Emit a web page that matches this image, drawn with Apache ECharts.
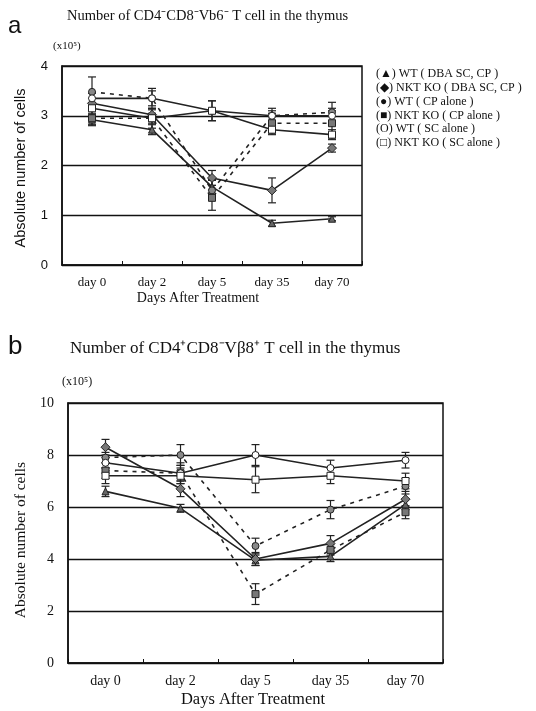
<!DOCTYPE html>
<html><head><meta charset="utf-8">
<script src="https://cdn.jsdelivr.net/npm/echarts@6/dist/echarts.min.js"></script>
<style>html,body{margin:0;padding:0;background:#fff}#c{width:536px;height:711px}</style>
</head><body><div id="c"></div>
<script>
const categories = ['day 0','day 2','day 5','day 35','day 70'];
const seriesNames = ['WT ( DBA SC, CP )','NKT KO ( DBA SC, CP )','WT ( CP alone )','NKT KO ( CP alone )','WT ( SC alone )','NKT KO ( SC alone )'];
const legendSymbols = ['▲','◆','●','■','O','□'];
// Panel a (x10^5)
const aWtDba      = [2.92, 2.72, 1.57, 0.84, 0.93];
const aNktDba     = [3.25, 3.02, 1.75, 1.50, 2.35];
const aWtCp       = [3.48, 3.35, 1.50, 3.00, 3.07];
const aNktCp      = [2.95, 2.95, 1.35, 2.85, 2.85];
const aWtSc       = [3.35, 3.35, 3.10, 3.00, 3.00];
const aNktSc      = [3.15, 2.95, 3.10, 2.72, 2.62];
const aErrWtDba   = [0.10, 0.10, 0.15, 0.06, 0.04];
const aErrNktDba  = [0.10, 0.10, 0.15, 0.25, 0.08];
const aErrWtCp    = [0.30, 0.20, 0.20, 0.15, 0.20];
const aErrNktCp   = [0.15, 0.20, 0.25, 0.20, 0.30];
const aErrWtSc    = [0.10, 0.15, 0.20, 0.10, 0.10];
const aErrNktSc   = [0.10, 0.10, 0.20, 0.10, 0.10];
// Panel b (x10^5)
const bWtDba      = [6.60, 5.95, 3.95, 4.10, 6.10];
const bNktDba     = [8.30, 6.70, 4.00, 4.60, 6.30];
const bWtCp       = [7.90, 8.00, 4.50, 5.90, 6.80];
const bNktCp      = [7.40, 7.30, 2.65, 4.35, 5.80];
const bWtSc       = [7.70, 7.30, 8.00, 7.50, 7.80];
const bNktSc      = [7.20, 7.20, 7.05, 7.20, 7.00];
const bErrWtDba   = [0.20, 0.15, 0.20, 0.20, 0.20];
const bErrNktDba  = [0.30, 0.30, 0.25, 0.30, 0.30];
const bErrWtCp    = [0.20, 0.40, 0.30, 0.35, 0.30];
const bErrNktCp   = [0.30, 0.40, 0.40, 0.20, 0.25];
const bErrWtSc    = [0.20, 0.30, 0.40, 0.30, 0.30];
const bErrNktSc   = [0.30, 0.30, 0.50, 0.30, 0.30];
const aTicks = [0,1,2,3,4];
const bTicks = [0,2,4,6,8,10];

const serif = 'Liberation Serif';
const sans = 'Liberation Sans';
const symbols = ['triangle','diamond','circle','rect','circle','rect'];
const fills = ['#666','#777','#888','#777','#fff','#fff'];
const dashed = [false,false,true,true,false,false];

function buildPanel(gi, vals, errs) {
  const out = [];
  vals.forEach((v, i) => {
    out.push({
      type:'line', xAxisIndex:gi, yAxisIndex:gi, data:v, symbol:symbols[i], symbolSize: i===1?9:7,
      lineStyle:{color:'#222', width:1.6, type: dashed[i] ? [4,5] : 'solid'},
      itemStyle:{color:fills[i], borderColor:'#222', borderWidth:1}, z:3, animation:false
    });
    out.push({
      type:'custom', xAxisIndex:gi, yAxisIndex:gi, z:2, animation:false,
      data: v.map((m, k) => [k, m - errs[i][k], m + errs[i][k]]),
      renderItem: function(params, api) {
        const lo = api.coord([api.value(0), api.value(1)]);
        const hi = api.coord([api.value(0), api.value(2)]);
        const w = 4;
        const st = {stroke:'#222', lineWidth:1.2};
        return {type:'group', children:[
          {type:'line', shape:{x1:lo[0],y1:lo[1],x2:hi[0],y2:hi[1]}, style:st},
          {type:'line', shape:{x1:lo[0]-w,y1:lo[1],x2:lo[0]+w,y2:lo[1]}, style:st},
          {type:'line', shape:{x1:hi[0]-w,y1:hi[1],x2:hi[0]+w,y2:hi[1]}, style:st}
        ]};
      }
    });
  });
  return out;
}

function xAx(gi, fs) {
  return {type:'category', gridIndex:gi, data:categories, boundaryGap:true,
    axisLine:{lineStyle:{color:'#111', width:1.5}},
    axisTick:{show:true, inside:true, length:4, lineStyle:{color:'#111'}},
    axisLabel:{color:'#111', fontFamily:serif, fontSize:fs, margin:11},
    splitLine:{show:false}};
}
function yAx(gi, ticks, interval, fs, font) {
  return {type:'value', gridIndex:gi, min:ticks[0], max:ticks[ticks.length-1], interval:interval,
    axisLine:{show:true, lineStyle:{color:'#111', width:1.5}},
    axisTick:{show:false},
    axisLabel:{color:'#111', fontFamily:font, fontSize:fs, margin:14},
    splitLine:{show:true, lineStyle:{color:'#111', width:1.3}}};
}

const chart = echarts.init(document.getElementById('c'), null, {renderer:'canvas'});
const legendTexts = seriesNames.map((n, i) => ({
  type:'text', left:376, top:68 + i*13.8,
  style:{text:'(' + legendSymbols[i] + ') ' + n, fontFamily:serif, fontSize:12, fill:'#111'}
}));
chart.setOption({
  backgroundColor:'#fff',
  animation:false,
  grid:[
    {left:62, top:66, width:300, height:199, show:true, borderColor:'#111', borderWidth:1.5},
    {left:68, top:403, width:375, height:260, show:true, borderColor:'#111', borderWidth:1.5}
  ],
  xAxis:[xAx(0, 13), xAx(1, 14)],
  yAxis:[yAx(0, aTicks, 1, 13, sans), yAx(1, bTicks, 2, 14, serif)],
  series: [].concat(
    buildPanel(0, [aWtDba,aNktDba,aWtCp,aNktCp,aWtSc,aNktSc], [aErrWtDba,aErrNktDba,aErrWtCp,aErrNktCp,aErrWtSc,aErrNktSc]),
    buildPanel(1, [bWtDba,bNktDba,bWtCp,bNktCp,bWtSc,bNktSc], [bErrWtDba,bErrNktDba,bErrWtCp,bErrNktCp,bErrWtSc,bErrNktSc])
  ),
  graphic: [
    {type:'text', left:8, top:14, style:{text:'a', fontFamily:sans, fontSize:24, fill:'#111'}},
    {type:'text', left:67, top:9, style:{text:'Number of CD4⁻CD8⁻Vb6⁻ T cell in the thymus', fontFamily:serif, fontSize:14.5, fill:'#111'}},
    {type:'text', left:53, top:41, style:{text:'(x10⁵)', fontFamily:serif, fontSize:11, fill:'#111'}},
    {type:'text', x:21, y:168, rotation:Math.PI/2, style:{text:'Absolute number of cells', fontFamily:sans, fontSize:14.5, fill:'#111', align:'center', verticalAlign:'middle'}},
    {type:'text', x:198, y:298, style:{text:'Days After Treatment', fontFamily:serif, fontSize:14, fill:'#111', align:'center', verticalAlign:'middle'}},
    {type:'text', left:8, top:334, style:{text:'b', fontFamily:sans, fontSize:26, fill:'#111'}},
    {type:'text', left:70, top:340, style:{text:'Number of CD4⁺CD8⁻Vβ8⁺ T cell in the thymus', fontFamily:serif, fontSize:17, fill:'#111'}},
    {type:'text', left:62, top:376, style:{text:'(x10⁵)', fontFamily:serif, fontSize:12, fill:'#111'}},
    {type:'text', x:21, y:540, rotation:Math.PI/2, style:{text:'Absolute number of cells', fontFamily:serif, fontSize:15.5, fill:'#111', align:'center', verticalAlign:'middle'}},
    {type:'text', x:253, y:700, style:{text:'Days After Treatment', fontFamily:serif, fontSize:16.5, fill:'#111', align:'center', verticalAlign:'middle'}}
  ].concat(legendTexts)
});
</script></body></html>
